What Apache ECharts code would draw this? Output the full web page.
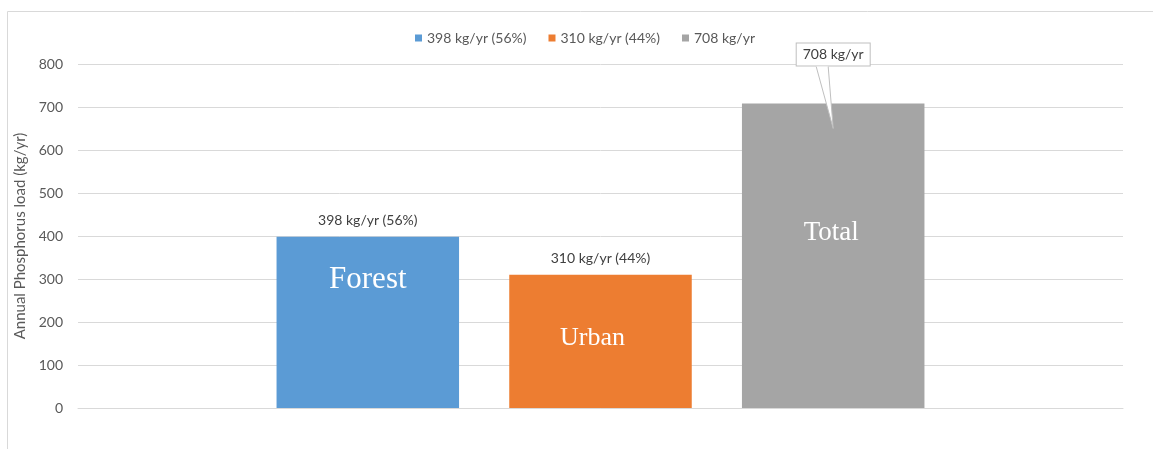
<!DOCTYPE html>
<html><head><meta charset="utf-8">
<script src="https://cdn.jsdelivr.net/npm/echarts@6/dist/echarts.min.js"></script>
<style>html,body{margin:0;padding:0;background:#fff}#c{width:1153px;height:449px}</style>
</head><body><div id="c"></div>
<script>
const categories = ['Load'];
const seriesNames = ['398 kg/yr (56%)', '310 kg/yr (44%)', '708 kg/yr'];
const innerNames = ['Forest', 'Urban', 'Total'];
const forestValues = [398];
const urbanValues = [310];
const totalValues = [708];
const topLabels = ['398 kg/yr (56%)', '310 kg/yr (44%)', '708 kg/yr'];
const yTicks = [0, 100, 200, 300, 400, 500, 600, 700, 800];
const colors = ['#5B9BD5', '#ED7D31', '#A5A5A5'];

const chart = echarts.init(document.getElementById('c'));
const values = [forestValues, urbanValues, totalValues];
const uiFont = 'Lato, "Liberation Sans", sans-serif';

const series = values.map((v, i) => ({
  name: seriesNames[i],
  type: 'bar',
  data: v,
  barGap: '27.5%',
  barCategoryGap: '38%',
  itemStyle: { color: colors[i] },
  label: i < 2 ? {
    show: true, position: 'top', distance: 9,
    formatter: () => topLabels[i],
    color: '#404040', fontSize: 14, fontFamily: uiFont
  } : {
    show: true, position: 'top', distance: 38,
    formatter: () => topLabels[i],
    color: '#404040', fontSize: 14, fontFamily: uiFont, lineHeight: 14,
    backgroundColor: '#fff', borderColor: '#bfbfbf', borderWidth: 1,
    padding: [4, 6, 4, 6]
  }
}));

const frame = {
  type: 'rect', silent: true, z: -1,
  shape: { x: 7.5, y: 11.5, width: 1200, height: 500 },
  style: { fill: 'none', stroke: '#d9d9d9', lineWidth: 1 }
};

chart.setOption({
  animation: false,
  textStyle: { fontFamily: uiFont },
  legend: {
    top: 26, left: 410, itemWidth: 7, itemHeight: 7, itemGap: 22,
    icon: 'rect',
    textStyle: { color: '#595959', fontSize: 14, fontFamily: uiFont },
    data: seriesNames
  },
  grid: { left: 78, right: 30, top: 64, bottom: 41 },
  xAxis: {
    type: 'category', data: categories,
    axisLine: { lineStyle: { color: '#d9d9d9' } },
    axisTick: { show: false }, axisLabel: { show: false }
  },
  yAxis: {
    type: 'value', min: yTicks[0], max: yTicks[yTicks.length - 1], interval: 100,
    name: 'Annual Phosphorus load (kg/yr)', nameLocation: 'middle', nameGap: 48,
    nameTextStyle: { color: '#595959', fontSize: 15, fontFamily: uiFont },
    axisLine: { show: false }, axisTick: { show: false },
    axisLabel: { color: '#595959', fontSize: 14, margin: 15, fontFamily: uiFont },
    splitLine: { lineStyle: { color: '#d9d9d9' } }
  },
  series: series,
  graphic: [frame]
});

// Inner labels and callout pointer positioned from the library's bar layouts
const innerStyle = [
  { size: 31, off: 43, dx: 0 },
  { size: 26, off: 63, dx: -8 },
  { size: 27, off: 129, dx: -2 }
];
const g = [];
values.forEach((v, i) => {
  const lay = chart.getModel().getSeriesByIndex(i).getData().getItemLayout(0);
  const cx = lay.x + lay.width / 2;
  const top = Math.min(lay.y, lay.y + lay.height);
  g.push({
    type: 'text', silent: true, z: 10,
    style: {
      text: innerNames[i], x: cx + innerStyle[i].dx, y: top + innerStyle[i].off,
      align: 'center', verticalAlign: 'middle',
      fill: '#fff', fontSize: innerStyle[i].size,
      fontFamily: '"Liberation Serif", "DejaVu Serif", serif'
    }
  });
  if (i === 2) {
    const boxBottom = top - 38;
    const tipY = chart.convertToPixel({ yAxisIndex: 0 }, 650);
    g.push({
      type: 'polyline', silent: true, z: 20,
      shape: { points: [[cx - 17, boxBottom + 1], [cx, tipY], [cx - 5, boxBottom + 1]] },
      style: { stroke: '#bfbfbf', lineWidth: 1, fill: '#fff' }
    });
  }
});
chart.setOption({ graphic: [frame].concat(g) });
</script></body></html>
